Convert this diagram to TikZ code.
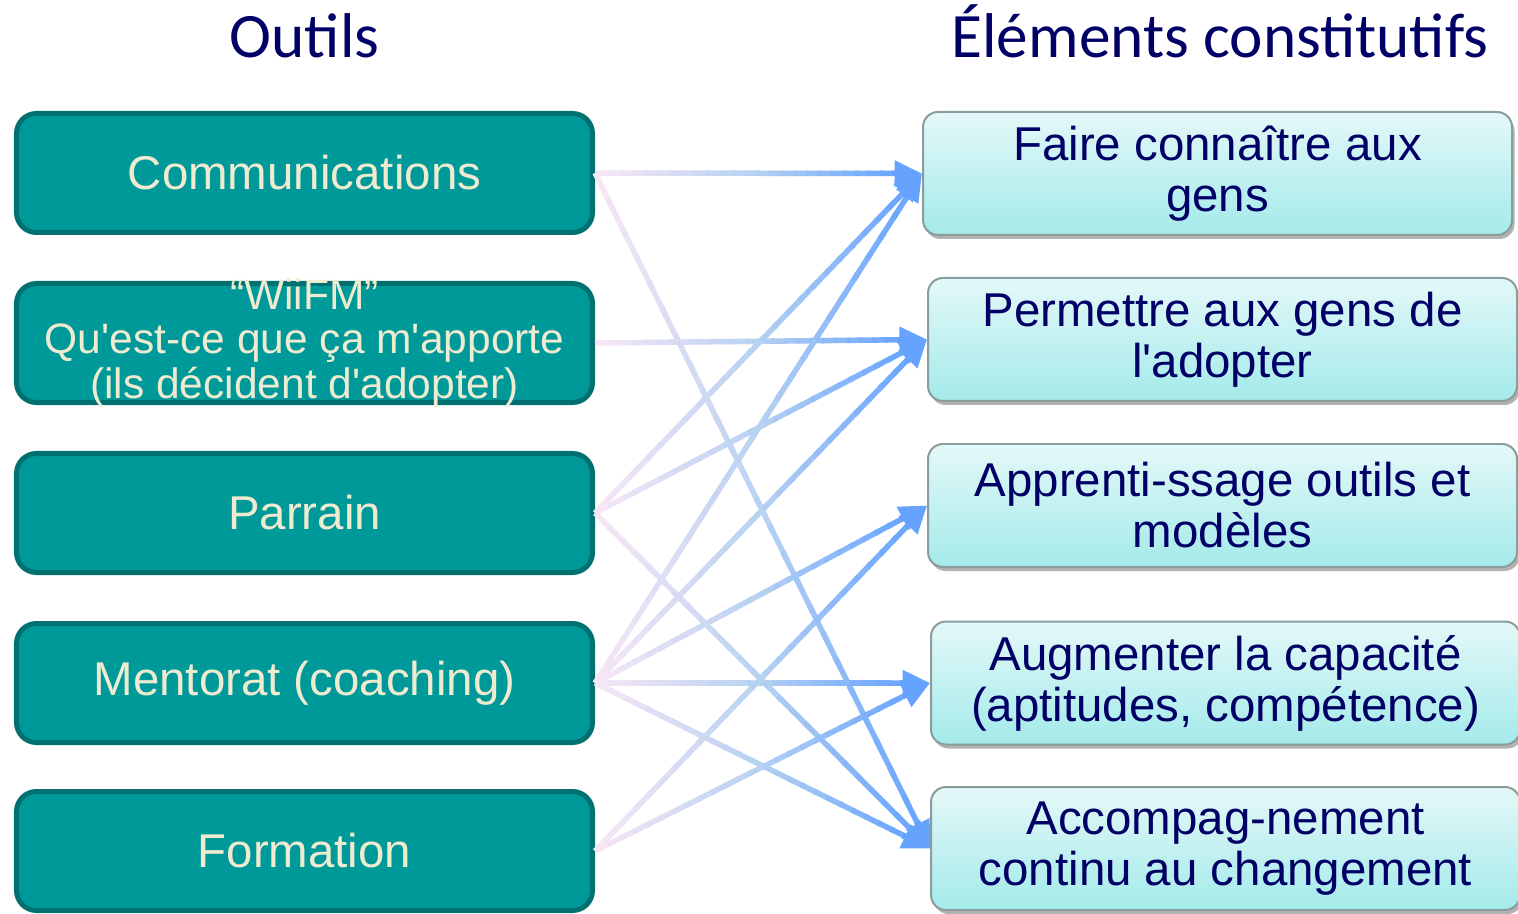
\documentclass[tikz,border=0pt]{standalone}
\usepackage{fontspec}
\newfontfamily\boxfont{Liberation Sans}
\newfontfamily\titlefont{Carlito}
\usetikzlibrary{calc,arrows.meta,shadows}

\definecolor{outilfill}{HTML}{009999}
\definecolor{outilborder}{HTML}{007070}
\definecolor{outiltext}{HTML}{EEEBD0}
\definecolor{elemtop}{HTML}{E4F8F8}
\definecolor{elembottom}{HTML}{A4EAEA}
\definecolor{elemborder}{HTML}{8A9C9C}
\definecolor{navy}{HTML}{000066}
\definecolor{arrowstart}{HTML}{F6E6F6}
\definecolor{arrowmid}{HTML}{B8D2F2}
\definecolor{arrowend}{HTML}{66A3FF}

\tikzset{
	outil/.style={draw=outilborder, line width=0.1cm, fill=outilfill, rounded corners=0.4cm, minimum width=11.52cm, minimum height=2.38cm, text=outiltext, font=\boxfont\fontsize{27}{29}\selectfont, align=center},
	element/.style={draw=elemborder, line width=0.04cm, top color=elemtop, bottom color=elembottom, rounded corners=0.3cm, minimum width=11.78cm, minimum height=2.46cm, text=navy, font=\boxfont\fontsize{27}{29}\selectfont, align=center, drop shadow={shadow xshift=0.05cm, shadow yshift=-0.08cm, fill=black, opacity=0.3}},
	titre/.style={text=navy, font=\titlefont\fontsize{36}{40}\selectfont, anchor=base},
	lien/.style={line width=0.11cm},
}

% gradient arrow from #1 to #2
\newcommand{\fleche}[2]{%
	\coordinate (fs) at (#1.east);
	\coordinate (fe) at ($(#2.west)!0.6cm!(#1.east)$);
	\foreach \i [evaluate=\i as \j using \i+1.3, evaluate=\i as \p using 100*\i/12] in {0,...,11}
		\draw[lien, color=arrowmid!\p!arrowstart] ($(fs)!\i/24!(fe)$) -- ($(fs)!\j/24!(fe)$);
	\foreach \i [evaluate=\i as \j using \i+1.3, evaluate=\i as \p using 100*(\i-12)/12] in {12,...,23}
		\draw[lien, color=arrowend!\p!arrowmid] ($(fs)!\i/24!(fe)$) -- ($(fs)!\j/24!(fe)$);
	\draw[lien, arrowend, ->, >={Triangle[length=0.55cm,width=0.5cm]}] (fe) -- (#2.west);
}

\begin{document}
\begin{tikzpicture}
	\useasboundingbox (0,0) rectangle (30.36,18.26);

	\node[titre] (t1) at (6.09,17.1) {Outils};
	\node[titre] (t2) at (24.4,17.1) {Éléments constitutifs};

	\node[outil] (10) at (6.09,14.8) {Communications};
	\node[outil] (11) at (6.09,11.4) {};
	\node[text=outiltext, font=\boxfont\fontsize{24.2}{25.6}\selectfont, align=center] (11t) at (11) {“WiiFM”\\Qu'est-ce que ça m'apporte\\(ils décident d'adopter)};
	\node[outil] (12) at (6.09,8.0) {Parrain};
	\node[outil] (13) at (6.09,4.6) {Mentorat (coaching)};
	\node[outil] (14) at (6.09,1.24) {Formation};

	\node[element] (20) at (24.35,14.79) {Faire connaître aux\\gens};
	\node[element] (21) at (24.45,11.47) {Permettre aux gens de\\l'adopter};
	\node[element] (22) at (24.45,8.15) {Apprenti-ssage outils et\\modèles};
	\node[element] (23) at (24.51,4.6) {Augmenter la capacité\\(aptitudes, compétence)};
	\node[element] (24) at (24.51,1.29) {Accompag-nement\\continu au changement};

	\fleche{10}{20}
	\fleche{10}{24}
	\fleche{11}{21}
	\fleche{12}{20}
	\fleche{12}{21}
	\fleche{12}{24}
	\fleche{13}{20}
	\fleche{13}{21}
	\fleche{13}{22}
	\fleche{13}{23}
	\fleche{13}{24}
	\fleche{14}{22}
	\fleche{14}{23}
\end{tikzpicture}
\end{document}
